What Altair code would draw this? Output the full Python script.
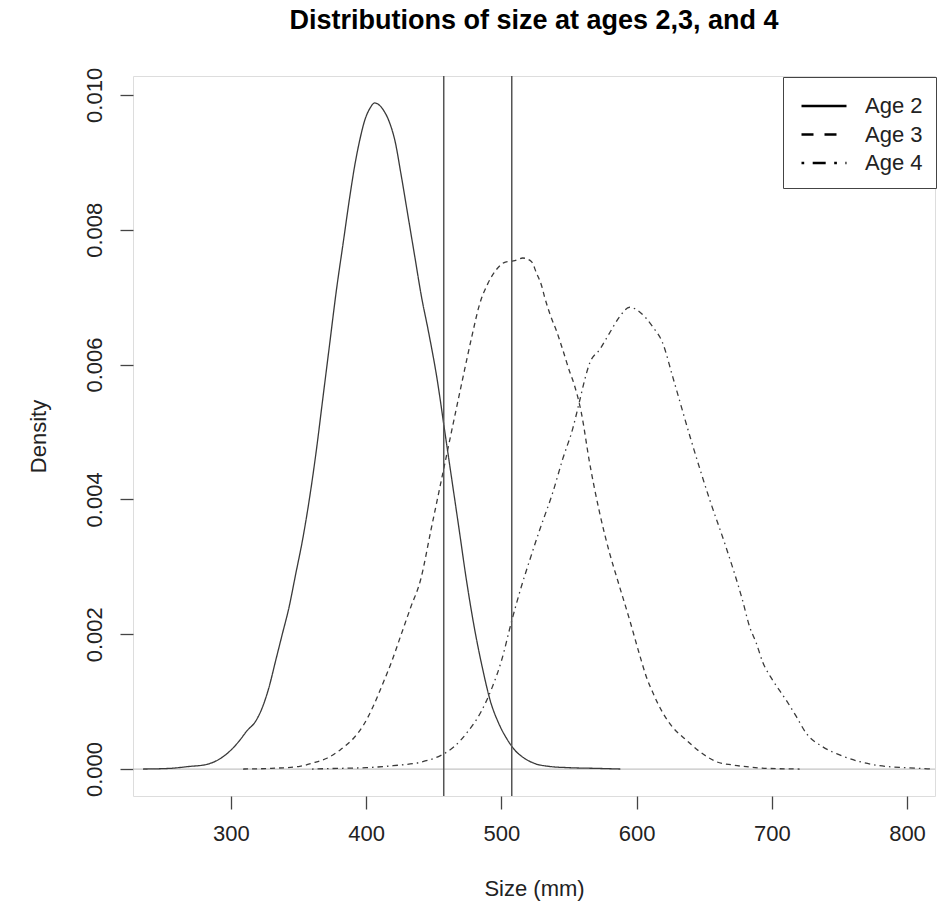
import altair as alt
import pandas as pd

# ---- data ----
series_names = ["Age 2", "Age 3", "Age 4"]

age2_x = [235, 255, 270, 280, 290, 300, 306.7, 312, 318, 323, 328, 333, 338, 343, 348, 353, 358,
          363, 368, 373, 378, 383, 388, 392, 395.3, 399.1, 402.8, 406.4, 409, 412.6, 417.5, 421.2,
          426, 431, 436, 441, 446, 452.6, 458, 463.4, 468.8, 474.2, 480, 486, 492, 498, 504, 510,
          517, 525, 535, 550, 570, 588]
age2_y = [0, 0.00001, 0.00004, 0.00006, 0.00013, 0.00028, 0.00043, 0.00057, 0.0007, 0.0009,
          0.0012, 0.0016, 0.002, 0.0024, 0.0029, 0.0034, 0.004, 0.0047, 0.0055, 0.0063, 0.0071,
          0.0078, 0.0085, 0.009, 0.00933, 0.00963, 0.0098, 0.00988, 0.00986, 0.00978, 0.00958,
          0.00933, 0.0088, 0.0082, 0.0076, 0.007, 0.0065, 0.00577, 0.00503, 0.00429, 0.00355,
          0.0028, 0.0021, 0.0015, 0.001, 0.00068, 0.00045, 0.00028, 0.00016, 0.00008, 0.00004,
          0.00002, 0.00001, 0]

age3_x = [309, 330, 351, 360.6, 371, 380.6, 386.7, 390.4, 398, 405, 412, 419, 426, 433, 440.2,
          448, 455.7, 463.4, 471.2, 478, 484, 490, 496, 503, 510, 515.8, 522.2, 525.9, 529.6, 532,
          537, 540.6, 545.4, 550.6, 552.8, 559.2, 565.3, 572.7, 580.1, 586, 594.9, 602.3, 607.2,
          612.1, 619.5, 626.7, 636.8, 646.6, 658.9, 671, 683.6, 695.9, 720.6]
age3_y = [0, 0.00001, 0.00004, 0.00009, 0.00016, 0.00028, 0.00038, 0.00045, 0.00065, 0.00092,
          0.00125, 0.0016, 0.002, 0.0024, 0.0028, 0.00355, 0.00429, 0.00503, 0.00577, 0.0064,
          0.0069, 0.0072, 0.0074, 0.00752, 0.00754, 0.00758, 0.00753, 0.00736, 0.00718, 0.007,
          0.00669, 0.00651, 0.00622, 0.00589, 0.00577, 0.00528, 0.00454, 0.0038, 0.0032, 0.0028,
          0.00221, 0.00169, 0.00137, 0.00113, 0.00083, 0.00062, 0.00043, 0.00026, 0.00011,
          0.00006, 0.00003, 0.00001, 0]

age4_x = [360, 380, 400, 420, 440, 455, 465, 475, 485, 493, 500, 507.7, 514.7, 521, 528.4, 538,
          545.4, 552.8, 558, 561.6, 565.3, 572.7, 580.1, 587.5, 594.9, 602.3, 611.9, 619.3, 626.7,
          640, 654, 666, 678.4, 683.6, 688.5, 693.2, 700.6, 710.7, 718.1, 725.5, 737.6, 750.2,
          764.9, 779.7, 799.4, 818.8]
age4_y = [0, 0.00001, 0.00002, 0.00005, 0.0001, 0.0002, 0.00033, 0.00055, 0.00085, 0.0012,
          0.0016, 0.0022, 0.0027, 0.0031, 0.00355, 0.0041, 0.0046, 0.00505, 0.00547, 0.00577,
          0.00602, 0.00622, 0.00647, 0.00671, 0.00685, 0.00678, 0.00656, 0.00632, 0.00582,
          0.0049, 0.004, 0.0033, 0.0025, 0.00211, 0.00187, 0.00159, 0.00132, 0.00102, 0.00078,
          0.00053, 0.00033, 0.00021, 0.00011, 0.00005, 0.00002, 0]

vline_x = [457.4, 507.7]
x_ticks = [300, 400, 500, 600, 700, 800]
y_ticks = [0, 0.002, 0.004, 0.006, 0.008, 0.010]

# ---- tables ----
rows = []
for name, xs, ys in zip(series_names, [age2_x, age3_x, age4_x], [age2_y, age3_y, age4_y]):
    for i, (a, b) in enumerate(zip(xs, ys)):
        rows.append({"series": name, "size": a, "density": b, "order": i})
curves = pd.DataFrame(rows)
vlines = pd.DataFrame({"x": vline_x})

FONT = "Liberation Sans"
W, H = 802, 720

xscale = alt.Scale(domain=[227.6, 820.7], nice=False, zero=False)
yscale = alt.Scale(domain=[-0.0004, 0.01028], nice=False, zero=False)

xaxis = alt.Axis(values=x_ticks, title="Size (mm)", format="d", grid=False, domain=False,
                 tickSize=13, tickColor="#444", tickWidth=1.3, labelPadding=14,
                 labelFontSize=22, labelColor="#222", labelFont=FONT,
                 titleFontSize=22, titleFont=FONT, titleFontWeight="normal", titleColor="#222",
                 titleX=W / 2, titleY=92, titleBaseline="middle", titleAlign="center")
yaxis = alt.Axis(values=y_ticks, title="Density", format=".3f", grid=False, domain=False,
                 tickSize=13, tickColor="#444", tickWidth=1.3, labelPadding=14,
                 labelAngle=270, labelAlign="center", labelBaseline="bottom",
                 labelFontSize=22, labelColor="#222", labelFont=FONT,
                 titleFontSize=22, titleFont=FONT, titleFontWeight="normal", titleColor="#222",
                 titleAngle=270, titleX=-95, titleY=H / 2, titleBaseline="middle",
                 titleAlign="center")

base_rule = alt.Chart(pd.DataFrame({"y": [0]})).mark_rule(
    color="#c4c4c4", strokeWidth=1.3
).encode(y=alt.Y("y:Q", scale=yscale, axis=yaxis))

dash_domain = series_names
lines = alt.Chart(curves).mark_line(
    color="#3a3a3a", strokeWidth=1.3, interpolate="monotone"
).encode(
    x=alt.X("size:Q", scale=xscale, axis=xaxis),
    y=alt.Y("density:Q", scale=yscale, axis=yaxis),
    strokeDash=alt.StrokeDash("series:N", scale=alt.Scale(
        domain=dash_domain, range=[[1, 0], [5, 4], [1.5, 4, 5.5, 4]]), legend=None),
    detail="series:N",
    order="order:Q",
)

legend_layer = alt.Chart(curves).transform_filter("datum.size < 0").mark_line(
    color="black", strokeWidth=2.7
).encode(
    x=alt.X("size:Q", scale=xscale),
    y=alt.Y("density:Q", scale=yscale),
    strokeDash=alt.StrokeDash("series:N", scale=alt.Scale(
        domain=dash_domain, range=[[1, 0], [12, 11], [2.7, 8.5, 13, 8.5]]),
        legend=alt.Legend(title=None, orient="none", legendX=650, legendY=1,
                          strokeColor="#444", padding=13.5,
                          symbolType="M-1.607,0H1.607", symbolSize=784,
                          symbolOffset=12, symbolStrokeWidth=2.7,
                          symbolStrokeColor="black", labelFontSize=22, labelFont=FONT,
                          labelColor="#222", labelOffset=25.5, rowPadding=1.5,
                          fillColor="white")),
)

vline_layer = alt.Chart(vlines).mark_rule(color="#555", strokeWidth=1.5).encode(
    x=alt.X("x:Q", scale=xscale)
)

chart = alt.layer(base_rule, lines, vline_layer, legend_layer).resolve_scale(
    strokeDash="independent"
).properties(
    width=W, height=H,
    title=alt.TitleParams("Distributions of size at ages 2,3, and 4", fontSize=27,
                          fontWeight="bold", font=FONT, color="black", anchor="middle",
                          offset=32),
    autosize=alt.AutoSizeParams(type="none"),
    padding={"left": 133, "top": 76, "right": 16, "bottom": 110},
).configure_view(stroke="#444", strokeWidth=1.5).configure(background="white")

chart.save("out.html", embed_options={"renderer": "svg", "actions": False})
